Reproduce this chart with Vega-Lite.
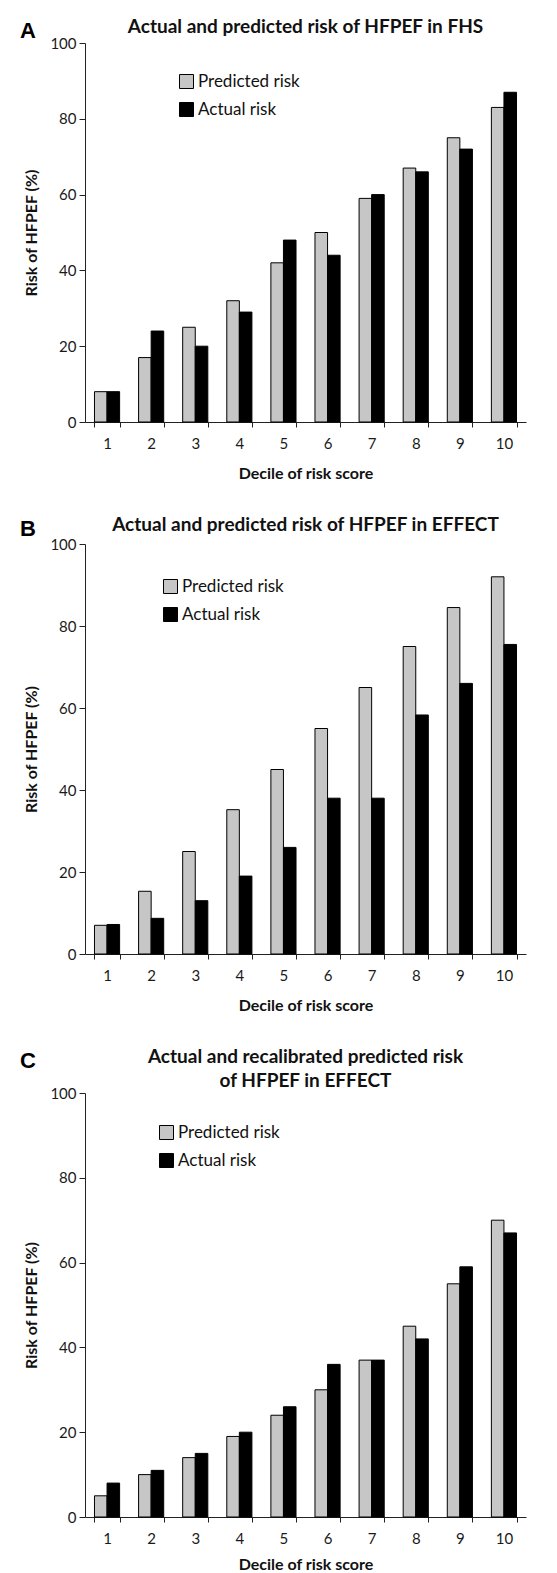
{
  "$schema": "https://vega.github.io/schema/vega-lite/v6.json",
  "padding": {"left": 19, "top": 18, "right": 5, "bottom": 0},
  "background": "white",
  "config": {
    "view": {"stroke": null},
    "font": "Lato",
    "axis": {"grid": false, "domainColor": "#222", "tickColor": "#222", "labelColor": "#1a1a1a", "titleColor": "#111", "labelFont": "Lato", "labelFontSize": 15, "titleFont": "Lato", "titleFontSize": 16, "titleFontWeight": "bold", "domainWidth": 1, "tickWidth": 1},
    "axisX": {"tickBand": "extent", "labelAngle": 0, "tickSize": 5, "labelPadding": 9, "titlePadding": 14},
    "axisY": {"tickSize": 6, "labelPadding": 3, "titlePadding": 10},
    "title": {"font": "Lato", "fontSize": 19, "fontWeight": "bold", "color": "#111"},
    "legend": {"symbolType": "square", "symbolSize": 196, "symbolStrokeColor": "#000", "symbolStrokeWidth": 1, "labelFont": "Lato", "labelFontSize": 17, "labelColor": "#111", "rowPadding": 9, "labelOffset": 3, "padding": 0}
  },
  "datasets": {
    "fhs": [
      {"decile": 1, "series": "Predicted risk", "risk": 8}, {"decile": 1, "series": "Actual risk", "risk": 8},
      {"decile": 2, "series": "Predicted risk", "risk": 17}, {"decile": 2, "series": "Actual risk", "risk": 24},
      {"decile": 3, "series": "Predicted risk", "risk": 25}, {"decile": 3, "series": "Actual risk", "risk": 20},
      {"decile": 4, "series": "Predicted risk", "risk": 32}, {"decile": 4, "series": "Actual risk", "risk": 29},
      {"decile": 5, "series": "Predicted risk", "risk": 42}, {"decile": 5, "series": "Actual risk", "risk": 48},
      {"decile": 6, "series": "Predicted risk", "risk": 50}, {"decile": 6, "series": "Actual risk", "risk": 44},
      {"decile": 7, "series": "Predicted risk", "risk": 59}, {"decile": 7, "series": "Actual risk", "risk": 60},
      {"decile": 8, "series": "Predicted risk", "risk": 67}, {"decile": 8, "series": "Actual risk", "risk": 66},
      {"decile": 9, "series": "Predicted risk", "risk": 75}, {"decile": 9, "series": "Actual risk", "risk": 72},
      {"decile": 10, "series": "Predicted risk", "risk": 83}, {"decile": 10, "series": "Actual risk", "risk": 87}
    ],
    "effect": [
      {"decile": 1, "series": "Predicted risk", "risk": 7}, {"decile": 1, "series": "Actual risk", "risk": 7.2},
      {"decile": 2, "series": "Predicted risk", "risk": 15.3}, {"decile": 2, "series": "Actual risk", "risk": 8.7},
      {"decile": 3, "series": "Predicted risk", "risk": 25}, {"decile": 3, "series": "Actual risk", "risk": 13},
      {"decile": 4, "series": "Predicted risk", "risk": 35.2}, {"decile": 4, "series": "Actual risk", "risk": 19},
      {"decile": 5, "series": "Predicted risk", "risk": 45}, {"decile": 5, "series": "Actual risk", "risk": 26},
      {"decile": 6, "series": "Predicted risk", "risk": 55}, {"decile": 6, "series": "Actual risk", "risk": 38},
      {"decile": 7, "series": "Predicted risk", "risk": 65}, {"decile": 7, "series": "Actual risk", "risk": 38},
      {"decile": 8, "series": "Predicted risk", "risk": 75}, {"decile": 8, "series": "Actual risk", "risk": 58.3},
      {"decile": 9, "series": "Predicted risk", "risk": 84.5}, {"decile": 9, "series": "Actual risk", "risk": 66},
      {"decile": 10, "series": "Predicted risk", "risk": 92}, {"decile": 10, "series": "Actual risk", "risk": 75.5}
    ],
    "recal": [
      {"decile": 1, "series": "Predicted risk", "risk": 5}, {"decile": 1, "series": "Actual risk", "risk": 8},
      {"decile": 2, "series": "Predicted risk", "risk": 10}, {"decile": 2, "series": "Actual risk", "risk": 11},
      {"decile": 3, "series": "Predicted risk", "risk": 14}, {"decile": 3, "series": "Actual risk", "risk": 15},
      {"decile": 4, "series": "Predicted risk", "risk": 19}, {"decile": 4, "series": "Actual risk", "risk": 20},
      {"decile": 5, "series": "Predicted risk", "risk": 24}, {"decile": 5, "series": "Actual risk", "risk": 26},
      {"decile": 6, "series": "Predicted risk", "risk": 30}, {"decile": 6, "series": "Actual risk", "risk": 36},
      {"decile": 7, "series": "Predicted risk", "risk": 37}, {"decile": 7, "series": "Actual risk", "risk": 37},
      {"decile": 8, "series": "Predicted risk", "risk": 45}, {"decile": 8, "series": "Actual risk", "risk": 42},
      {"decile": 9, "series": "Predicted risk", "risk": 55}, {"decile": 9, "series": "Actual risk", "risk": 59},
      {"decile": 10, "series": "Predicted risk", "risk": 70}, {"decile": 10, "series": "Actual risk", "risk": 67}
    ]
  },
  "spacing": 35,
  "resolve": {"scale": {"color": "independent"}, "legend": {"color": "independent"}},
  "vconcat": [
    {
      "title": {"text": "A", "anchor": "start", "frame": "bounds", "font": "Liberation Sans", "fontSize": 22, "fontWeight": "bold", "color": "#000", "offset": -25, "dx": -4},
      "resolve": {"scale": {"color": "independent"}, "legend": {"color": "independent"}},
      "vconcat": [
        {
          "title": {"text": "Actual and predicted risk of HFPEF in FHS", "anchor": "middle", "frame": "group", "offset": -1},
          "width": 441, "height": 379,
          "data": {"name": "fhs"},
          "mark": {"type": "bar", "stroke": "#000", "strokeWidth": 1},
          "encoding": {
            "x": {"field": "decile", "type": "ordinal", "title": "Decile of risk score", "scale": {"paddingInner": 0.43, "paddingOuter": 0.215}},
            "xOffset": {"field": "series", "type": "nominal", "sort": ["Predicted risk", "Actual risk"]},
            "y": {"field": "risk", "type": "quantitative", "title": "Risk of HFPEF (%)", "scale": {"domain": [0, 100]}, "axis": {"values": [0, 20, 40, 60, 80, 100]}},
            "color": {"field": "series", "type": "nominal", "scale": {"domain": ["Predicted risk", "Actual risk"], "range": ["#c6c6c6", "#000000"]}, "legend": {"orient": "none", "legendX": 93, "legendY": 30, "title": null}}
          }
        }
      ]
    },
    {
      "title": {"text": "B", "anchor": "start", "frame": "bounds", "font": "Liberation Sans", "fontSize": 22, "fontWeight": "bold", "color": "#000", "offset": -25, "dx": -4},
      "resolve": {"scale": {"color": "independent"}, "legend": {"color": "independent"}},
      "vconcat": [
        {
          "title": {"text": "Actual and predicted risk of HFPEF in EFFECT", "anchor": "middle", "frame": "group", "offset": 2},
          "width": 441, "height": 410,
          "data": {"name": "effect"},
          "mark": {"type": "bar", "stroke": "#000", "strokeWidth": 1},
          "encoding": {
            "x": {"field": "decile", "type": "ordinal", "title": "Decile of risk score", "scale": {"paddingInner": 0.43, "paddingOuter": 0.215}},
            "xOffset": {"field": "series", "type": "nominal", "sort": ["Predicted risk", "Actual risk"]},
            "y": {"field": "risk", "type": "quantitative", "title": "Risk of HFPEF (%)", "scale": {"domain": [0, 100]}, "axis": {"values": [0, 20, 40, 60, 80, 100]}},
            "color": {"field": "series", "type": "nominal", "scale": {"domain": ["Predicted risk", "Actual risk"], "range": ["#c6c6c6", "#000000"]}, "legend": {"orient": "none", "legendX": 77, "legendY": 34, "title": null}}
          }
        }
      ]
    },
    {
      "title": {"text": "C", "anchor": "start", "frame": "bounds", "font": "Liberation Sans", "fontSize": 22, "fontWeight": "bold", "color": "#000", "offset": -25, "dx": -4},
      "resolve": {"scale": {"color": "independent"}, "legend": {"color": "independent"}},
      "vconcat": [
        {
          "title": {"text": ["Actual and recalibrated predicted risk", "of HFPEF in EFFECT"], "anchor": "middle", "frame": "group", "offset": -5, "lineHeight": 24},
          "width": 441, "height": 424,
          "data": {"name": "recal"},
          "mark": {"type": "bar", "stroke": "#000", "strokeWidth": 1},
          "encoding": {
            "x": {"field": "decile", "type": "ordinal", "title": "Decile of risk score", "scale": {"paddingInner": 0.43, "paddingOuter": 0.215}, "axis": {"titlePadding": 10}},
            "xOffset": {"field": "series", "type": "nominal", "sort": ["Predicted risk", "Actual risk"]},
            "y": {"field": "risk", "type": "quantitative", "title": "Risk of HFPEF (%)", "scale": {"domain": [0, 100]}, "axis": {"values": [0, 20, 40, 60, 80, 100]}},
            "color": {"field": "series", "type": "nominal", "scale": {"domain": ["Predicted risk", "Actual risk"], "range": ["#c6c6c6", "#000000"]}, "legend": {"orient": "none", "legendX": 73, "legendY": 31, "title": null}}
          }
        }
      ]
    }
  ]
}
